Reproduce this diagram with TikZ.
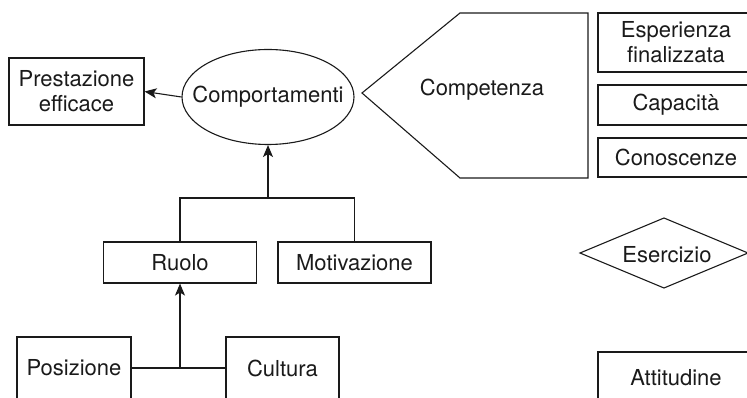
\documentclass[tikz,border=0pt]{standalone}
\usepackage{fontspec}
\setmainfont{TeX Gyre Heros}
\usetikzlibrary{shapes.geometric,arrows.meta}
\definecolor{ink}{HTML}{1A1A1A}
\tikzset{
  base/.style={draw=ink, line width=1.1pt, text=ink, inner sep=0pt, align=center,
    font=\fontsize{22}{25}\selectfont},
  box/.style={base, rectangle},
  oval/.style={base, ellipse},
  link/.style={draw=ink, line width=1.1pt},
  arrow/.style={link, -{Stealth[length=12pt,width=10pt,inset=3pt]}}
}
\begin{document}
\begin{tikzpicture}[x=1pt,y=-1pt]
  \useasboundingbox (0,0) rectangle (747,398);
  \clip (0,0) rectangle (747,398);

  % left part: behaviour and performance
  \node[box, minimum width=135pt, minimum height=67pt] (pe) at (76.5,91.5) {Prestazione\\efficace};
  \node[oval, minimum width=172pt, minimum height=95pt] (comp) at (268,97) {\makebox[0pt]{Comportamenti}};

  % competence pentagon
  \coordinate (tip) at (362,93);
  \coordinate (tl) at (460,13);
  \coordinate (tr) at (588,13);
  \coordinate (br) at (588,178);
  \coordinate (bl) at (460,178);
  \draw[link] (tip) -- (tl) -- (tr) -- (br) -- (bl) -- cycle;
  \node[base, draw=none] (cz) at (482,90) {Competenza};

  % components of competence
  \node[box, minimum width=156pt, minimum height=59pt] (esp) at (676,42.5) {Esperienza\\finalizzata};
  \node[box, minimum width=156pt, minimum height=40pt] (cap) at (676,105) {Capacità};
  \node[box, minimum width=156pt, minimum height=39pt] (con) at (676,157.5) {Conoscenze};

  \node[base, draw=none] (es) at (667,255) {Esercizio};
  \draw[link] (580,253) -- (664,218) -- (748,253) -- (664,288) -- cycle;

  \node[box, minimum width=156pt, minimum height=52pt] (att) at (676,378) {Attitudine};

  % role and motivation
  \node[box, minimum width=153pt, minimum height=41pt] (ruolo) at (180,262.5) {Ruolo};
  \node[box, minimum width=153pt, minimum height=41pt] (motiv) at (354.5,262.5) {Motivazione};

  \node[box, minimum width=114pt, minimum height=62pt] (pos) at (74,368) {Posizione};
  \node[box, minimum width=113pt, minimum height=62pt] (cult) at (282.5,368) {Cultura};

  % connectors
  \draw[arrow] (comp.west) -- (pe.east);
  \coordinate (j) at (comp.south |- 0,198);
  \draw[link] (ruolo.north) |- (j) -| (motiv.north);
  \draw[arrow] (j) -- (comp.south);
  \draw[link] (pos.east) -- (cult.west);
  \coordinate (k) at (ruolo.south |- pos.east);
  \draw[arrow] (k) -- (ruolo.south);
\end{tikzpicture}
\end{document}
